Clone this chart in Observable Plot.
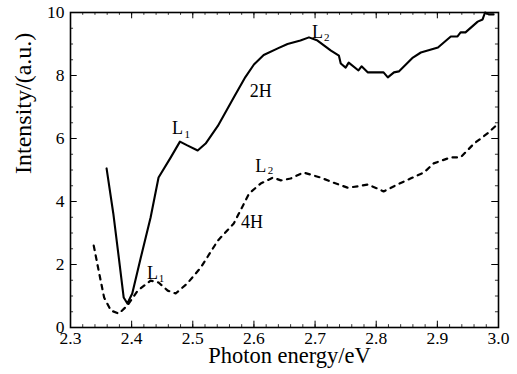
<!DOCTYPE html>
<html>
<head>
<meta charset="utf-8">
<script src="https://cdn.jsdelivr.net/npm/d3@7"></script>
<script src="https://cdn.jsdelivr.net/npm/@observablehq/plot@0.6"></script>
<style>
  body { margin: 0; background: #fff; }
  svg { display: block; }
  svg, svg g, svg text { font-family: "Liberation Serif", "Times New Roman", serif !important; }
</style>
</head>
<body>
<div id="chart"></div>
<script>
// 2H curve (solid)
const h2X = [2.359, 2.370, 2.379, 2.387, 2.393, 2.401, 2.415, 2.431, 2.444, 2.464, 2.479, 2.491, 2.508, 2.521, 2.541, 2.567, 2.586, 2.600, 2.616, 2.639, 2.655, 2.676, 2.690, 2.704, 2.726, 2.739, 2.742, 2.750, 2.755, 2.771, 2.776, 2.786, 2.812, 2.819, 2.829, 2.837, 2.860, 2.873, 2.901, 2.922, 2.933, 2.938, 2.946, 2.966, 2.974, 2.978, 2.984, 2.992];
const h2Y = [5.05, 3.62, 2.22, 0.95, 0.76, 1.08, 2.22, 3.49, 4.76, 5.40, 5.90, 5.78, 5.62, 5.84, 6.40, 7.30, 7.95, 8.35, 8.65, 8.86, 9.00, 9.11, 9.21, 9.11, 8.79, 8.63, 8.38, 8.25, 8.41, 8.16, 8.29, 8.10, 8.10, 7.94, 8.10, 8.13, 8.57, 8.73, 8.89, 9.24, 9.24, 9.37, 9.37, 9.71, 9.78, 10.0, 9.94, 9.94];
// 4H curve (dashed)
const h4X = [2.338, 2.346, 2.355, 2.366, 2.379, 2.393, 2.410, 2.431, 2.444, 2.459, 2.472, 2.491, 2.513, 2.541, 2.567, 2.592, 2.611, 2.631, 2.644, 2.660, 2.681, 2.709, 2.730, 2.753, 2.770, 2.786, 2.802, 2.812, 2.835, 2.856, 2.878, 2.894, 2.922, 2.938, 2.960, 2.982, 2.996];
const h4Y = [2.60, 1.81, 0.95, 0.54, 0.44, 0.70, 1.17, 1.49, 1.43, 1.17, 1.08, 1.40, 1.90, 2.76, 3.30, 4.25, 4.57, 4.76, 4.67, 4.73, 4.92, 4.76, 4.60, 4.44, 4.48, 4.54, 4.41, 4.32, 4.54, 4.73, 4.92, 5.21, 5.40, 5.40, 5.84, 6.16, 6.41];

const xTicks = [2.3, 2.4, 2.5, 2.6, 2.7, 2.8, 2.9, 3.0];
const yTicks = [0, 2, 4, 6, 8, 10];
const xMinor = d3.range(0, 36).map(i => 2.3 + i * 0.02);
const yMinor = d3.range(0, 21).map(i => i * 0.5);

// annotations: main text and subscript
const mainLabels = [
  {t: "2H", x: 2.611, y: 7.49},
  {t: "4H", x: 2.597, y: 3.33},
  {t: "L", x: 2.475, y: 6.32},
  {t: "L", x: 2.434, y: 1.71},
  {t: "L", x: 2.704, y: 9.37},
  {t: "L", x: 2.611, y: 5.11}
];
const subLabels = [
  {t: "1", x: 2.491, y: 6.14},
  {t: "1", x: 2.449, y: 1.57},
  {t: "2", x: 2.719, y: 9.22},
  {t: "2", x: 2.627, y: 4.97}
];

const h2 = h2X.map((x, i) => ({x, y: h2Y[i]}));
const h4 = h4X.map((x, i) => ({x, y: h4Y[i]}));

const font = "Liberation Serif, Times New Roman, serif";

const chart = Plot.plot({
  width: 517,
  height: 374,
  marginLeft: 70,
  marginRight: 19,
  marginTop: 12,
  marginBottom: 47,
  style: {fontFamily: font, background: "#fff", color: "#000"},
  x: {domain: [2.3, 3.0]},
  y: {domain: [0, 10]},
  marks: [
    // minor ticks
    Plot.ruleX(xMinor, {x: d => d, y1: 0, y2: 0.09, stroke: "#000", strokeWidth: 0.8}),
    Plot.ruleX(xMinor, {x: d => d, y1: 10, y2: 9.91, stroke: "#000", strokeWidth: 0.8}),
    Plot.ruleY(yMinor, {y: d => d, x1: 2.3, x2: 2.305, stroke: "#000", strokeWidth: 0.8}),
    Plot.ruleY(yMinor, {y: d => d, x1: 3.0, x2: 2.995, stroke: "#000", strokeWidth: 0.8}),
    // major ticks (inward)
    Plot.ruleX(xTicks, {x: d => d, y1: 0, y2: 0.2, stroke: "#000", strokeWidth: 1}),
    Plot.ruleX(xTicks, {x: d => d, y1: 10, y2: 9.8, stroke: "#000", strokeWidth: 1}),
    Plot.ruleY(yTicks, {y: d => d, x1: 2.3, x2: 2.311, stroke: "#000", strokeWidth: 1}),
    Plot.ruleY(yTicks, {y: d => d, x1: 3.0, x2: 2.989, stroke: "#000", strokeWidth: 1}),
    Plot.frame({stroke: "#000", strokeWidth: 1.6}),
    Plot.axisX({ticks: xTicks, tickSize: 0, tickPadding: 4, tickFormat: d3.format(".1f"), fontSize: 17.5, fontFamily: font, label: null}),
    Plot.axisY({ticks: yTicks, tickSize: 0, tickPadding: 6, tickFormat: d3.format("d"), fontSize: 17.5, fontFamily: font, label: null}),
    Plot.line(h4, {x: "x", y: "y", stroke: "#000", strokeWidth: 2.2, strokeDasharray: "4.5,5.5"}),
    Plot.line(h2, {x: "x", y: "y", stroke: "#000", strokeWidth: 2.1}),
    Plot.text(mainLabels, {x: "x", y: "y", text: "t", fontSize: 18, fontFamily: font, fill: "#000"}),
    Plot.text(subLabels, {x: "x", y: "y", text: "t", fontSize: 11, fontFamily: font, fill: "#000"}),
    Plot.text(["Photon energy/eV"], {frameAnchor: "bottom", dx: 5, dy: 35.5, fontSize: 22.5, fontFamily: font, fill: "#000"}),
    Plot.text(["Intensity/(a.u.)"], {frameAnchor: "left", dx: -47, dy: 4, rotate: -90, fontSize: 24, fontFamily: font, fill: "#000"})
  ]
});
document.getElementById("chart").appendChild(chart);
</script>
</body>
</html>
